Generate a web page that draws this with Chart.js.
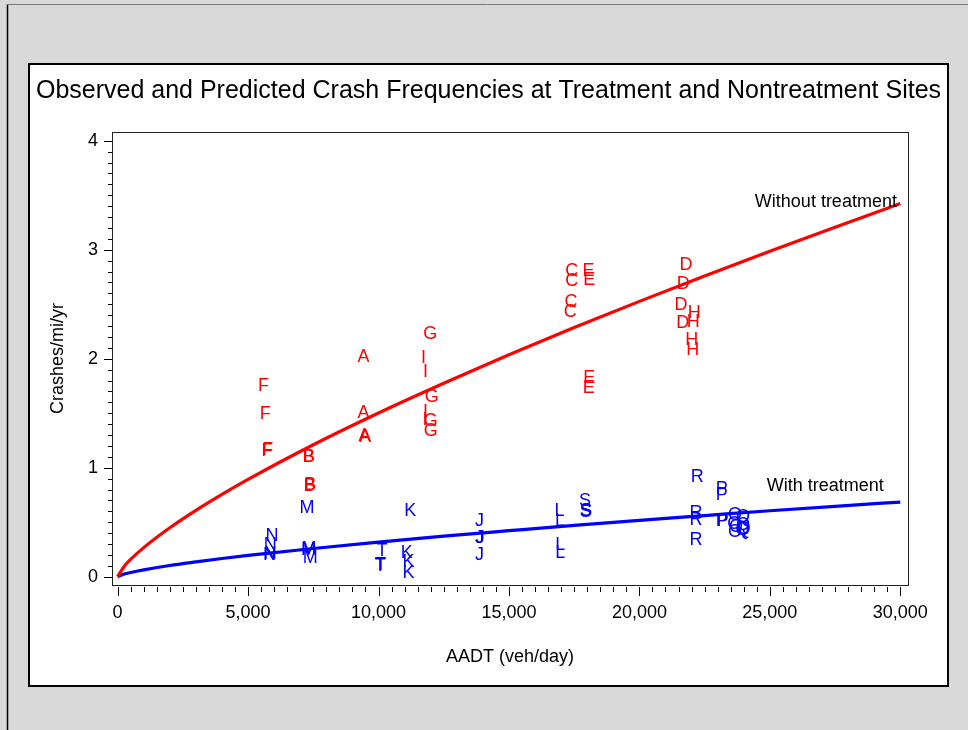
<!DOCTYPE html>
<html>
<head>
<meta charset="utf-8">
<script src="https://cdn.jsdelivr.net/npm/chart.js@4.4.1/dist/chart.umd.min.js"></script>
<style>
  html, body { margin: 0; padding: 0; background: #d9d9d9; }
  #wrap { width: 968px; height: 730px; position: relative; }
</style>
</head>
<body>
<div id="wrap"><canvas id="chart"></canvas></div>
<script>
// ---------------- data ----------------
const chartTitle = 'Observed and Predicted Crash Frequencies at Treatment and Nontreatment Sites';
const xAxisTitle = 'AADT (veh/day)';
const yAxisTitle = 'Crashes/mi/yr';

const xTickValues = [0, 5000, 10000, 15000, 20000, 25000, 30000];
const yTickValues = [0, 1, 2, 3, 4];

// predicted curves
const curveAADT        = [0, 250, 500, 1000, 2000, 3000, 4000, 5000, 7500, 10000, 12500, 15000, 17500, 20000, 22500, 25000, 27500, 30000];
const withoutTreatment = [0, 0.094, 0.159, 0.267, 0.449, 0.609, 0.756, 0.893, 1.211, 1.502, 1.775, 2.036, 2.286, 2.526, 2.759, 2.986, 3.207, 3.423];
const withTreatment    = [0, 0.024, 0.039, 0.063, 0.103, 0.136, 0.167, 0.195, 0.259, 0.317, 0.372, 0.422, 0.471, 0.517, 0.561, 0.605, 0.646, 0.685];

// observed: nontreatment sites (red letters)
const nontreatSite    = ['A','A','A','A', 'B','B','B','B', 'C','C','C','C', 'D','D','D','D', 'E','E','E','E', 'F','F','F','F', 'G','G','G','G', 'H','H','H','H', 'I','I','I','I'];
const nontreatAADT    = [9424,9424,9490,9460, 7318,7340,7357,7380, 17408,17408,17380,17350, 21787,21684,21596,21660, 18045,18080,18080,18060, 5594,5658,5723,5750, 11980,12044,12006,12006, 22105,22067,22005,22043, 11720,11800,11800,11780];
const nontreatCrashes = [2.025,1.514,1.291,1.300, 1.107,1.115,0.850,0.855, 2.820,2.722,2.532,2.440, 2.875,2.697,2.508,2.339, 2.820,2.738,1.835,1.743, 1.759,1.505,1.169,1.175, 2.236,1.658,1.444,1.346, 2.431,2.349,2.187,2.095, 2.016,1.887,1.529,1.450];

// observed: treatment sites (blue letters)
const treatSite    = ['J','J','J','J', 'K','K','K','K', 'L','L','L','L', 'M','M','M','M', 'N','N','N','N', 'O','O','O','O', 'P','P','P','P', 'Q','Q','Q','Q', 'R','R','R','R', 'S','S','S','S', 'T','T','T','T'];
const treatAADT    = [13870,13870,13900,13870, 11213,11087,11150,11150, 16934,16960,16970,16970, 7256,7318,7340,7382, 5915,5850,5823,5850, 23664,23664,23700,23640, 23155,23155,23155,23190, 23970,23970,23950,24000, 22220,22170,22170,22170, 17918,17940,17960,17940, 10129,10064,10090,10064];
const treatCrashes = [0.520,0.367,0.372,0.208, 0.618,0.229,0.147,0.046, 0.612,0.520,0.306,0.229, 0.642,0.261,0.265,0.183, 0.383,0.306,0.215,0.220, 0.582,0.428,0.470,0.500, 0.822,0.765,0.520,0.525, 0.560,0.490,0.444,0.450, 0.924,0.596,0.535,0.352, 0.704,0.612,0.620,0.605, 0.245,0.117,0.120,0.110];

// curve annotations (text, anchored in data units at the right end of the text)
const curveNoteText = ['Without treatment', 'With treatment'];
const curveNoteAADT = [29870, 29370];
const curveNoteCrashes = [3.447, 0.850];

// ---------------- styles ----------------
const FONT = '"Liberation Sans", Arial, Helvetica, sans-serif';
const RED = '#ff0000';
const BLUE = '#0000ff';
const LETTER_SIZE = 18;

const toPts = (xs, ys) => xs.map((x, i) => ({ x: x, y: ys[i] }));

// background, frames, tick marks
const decorPlugin = {
  id: 'decor',
  beforeDraw(chart) {
    const ctx = chart.ctx;
    ctx.save();
    ctx.fillStyle = '#d9d9d9';
    ctx.fillRect(0, 0, chart.width, chart.height);
    // outer frame (top and left visible)
    ctx.strokeStyle = '#000';
    ctx.lineWidth = 1.5;
    ctx.beginPath();
    ctx.moveTo(7.5, chart.height);
    ctx.lineTo(7.5, 4.5);
    ctx.stroke();
    ctx.strokeStyle = '#777';
    ctx.lineWidth = 1;
    ctx.beginPath();
    ctx.moveTo(7.5, 4.5);
    ctx.lineTo(chart.width, 4.5);
    ctx.stroke();
    // white panel
    ctx.fillStyle = '#fff';
    ctx.fillRect(29, 64, 919, 622);
    ctx.strokeStyle = '#000';
    ctx.lineWidth = 2;
    ctx.strokeRect(29, 64, 919, 622);
    ctx.restore();
  },
  afterDraw(chart) {
    const ctx = chart.ctx;
    const ca = chart.chartArea;
    const xs = chart.scales.x, ys = chart.scales.y;
    ctx.save();
    ctx.strokeStyle = '#222';
    ctx.lineWidth = 1;
    ctx.strokeRect(Math.round(ca.left) + 0.5, Math.round(ca.top) + 0.5,
                   Math.round(ca.right - ca.left), Math.round(ca.bottom - ca.top));
    ctx.strokeStyle = '#000';
    ctx.beginPath();
    const x0 = xTickValues[0], x1 = xTickValues[xTickValues.length - 1];
    const nx = Math.round((x1 - x0) / 500);
    const by = Math.round(ca.bottom) + 2;
    for (let i = 0; i <= nx; i++) {
      const v = x0 + i * 500;
      const px = Math.round(xs.getPixelForValue(v)) + 0.5;
      const len = (i % 10 === 0) ? 9 : 5;
      ctx.moveTo(px, by);
      ctx.lineTo(px, by + len);
    }
    const y0 = yTickValues[0], y1 = yTickValues[yTickValues.length - 1];
    const ny = Math.round((y1 - y0) / 0.1);
    const lx = Math.round(ca.left);
    for (let i = 0; i <= ny; i++) {
      const v = y0 + i * 0.1;
      const py = Math.round(ys.getPixelForValue(v)) + 0.5;
      const len = (i % 10 === 0) ? 8 : 4;
      ctx.moveTo(lx - len, py);
      ctx.lineTo(lx, py);
    }
    ctx.stroke();
    ctx.restore();
  },
  afterDatasetsDraw(chart) {
    const ctx = chart.ctx;
    ctx.save();
    ctx.textAlign = 'center';
    ctx.textBaseline = 'alphabetic';
    ctx.font = LETTER_SIZE + 'px ' + FONT;
    const capHalf = LETTER_SIZE * 0.716 / 2;
    chart.data.datasets.forEach((ds, di) => {
      if (!ds.letters) return;
      const meta = chart.getDatasetMeta(di);
      ctx.fillStyle = ds.letterColor;
      meta.data.forEach((el, i) => {
        ctx.fillText(ds.letters[i], el.x, el.y + capHalf);
      });
    });
    // curve notes
    const xs = chart.scales.x, ys = chart.scales.y;
    ctx.fillStyle = '#000';
    ctx.textAlign = 'right';
    ctx.font = '18px ' + FONT;
    curveNoteText.forEach((t, i) => {
      ctx.fillText(t, xs.getPixelForValue(curveNoteAADT[i]), ys.getPixelForValue(curveNoteCrashes[i]) + capHalf);
    });
    ctx.restore();
  }
};

new Chart(document.getElementById('chart'), {
  data: {
    datasets: [
      {
        type: 'line', label: 'Without treatment',
        data: toPts(curveAADT, withoutTreatment),
        borderColor: RED, borderWidth: 3.2, pointRadius: 0,
        cubicInterpolationMode: 'monotone', fill: false, order: 2
      },
      {
        type: 'line', label: 'With treatment',
        data: toPts(curveAADT, withTreatment),
        borderColor: BLUE, borderWidth: 3.2, pointRadius: 0,
        cubicInterpolationMode: 'monotone', fill: false, order: 2
      },
      {
        type: 'scatter', label: 'Nontreatment sites',
        data: toPts(nontreatAADT, nontreatCrashes),
        letters: nontreatSite, letterColor: RED,
        pointRadius: 0, pointHoverRadius: 0, order: 1
      },
      {
        type: 'scatter', label: 'Treatment sites',
        data: toPts(treatAADT, treatCrashes),
        letters: treatSite, letterColor: BLUE,
        pointRadius: 0, pointHoverRadius: 0, order: 1
      }
    ]
  },
  options: {
    responsive: true,
    maintainAspectRatio: false,
    animation: false,
    events: [],
    layout: { padding: { left: 29, right: 20, top: 64, bottom: 55 } },
    plugins: {
      legend: { display: false },
      tooltip: { enabled: false },
      title: {
        display: true,
        text: chartTitle,
        color: '#000',
        font: { family: FONT, size: 25, weight: 'normal' },
        padding: { top: 12, bottom: 26 }
      }
    },
    scales: {
      x: {
        type: 'linear',
        min: -215, max: 30295,
        grid: { display: false, drawTicks: false },
        border: { display: false },
        afterBuildTicks: (s) => { s.ticks = xTickValues.map(v => ({ value: v })); },
        afterFit: (s) => { s.height = 90; },
        ticks: {
          color: '#000', padding: 17, maxRotation: 0, autoSkip: false,
          font: { family: FONT, size: 18 },
          callback: (v) => Number(v).toLocaleString('en-US')
        },
        title: {
          display: true, text: xAxisTitle, color: '#000',
          font: { family: FONT, size: 18 },
          padding: { top: 4, bottom: 7 }
        }
      },
      y: {
        type: 'linear',
        min: -0.076, max: 4.08,
        grid: { display: false, drawTicks: false },
        border: { display: false },
        afterBuildTicks: (s) => { s.ticks = yTickValues.map(v => ({ value: v })); },
        afterFit: (s) => { s.width = 83; },
        ticks: {
          color: '#000', padding: 14, autoSkip: false,
          font: { family: FONT, size: 18 }
        },
        title: {
          display: true, text: yAxisTitle, color: '#000',
          font: { family: FONT, size: 18 },
          padding: { top: 18, bottom: 4 }
        }
      },
      // empty right-hand spacer so the title centres on the whole white panel
      yRight: {
        type: 'linear',
        position: 'right',
        display: true,
        grid: { display: false, drawTicks: false },
        border: { display: false },
        ticks: { display: false },
        afterFit: (s) => { s.width = 40; }
      }
    }
  },
  plugins: [decorPlugin]
});
</script>
</body>
</html>
